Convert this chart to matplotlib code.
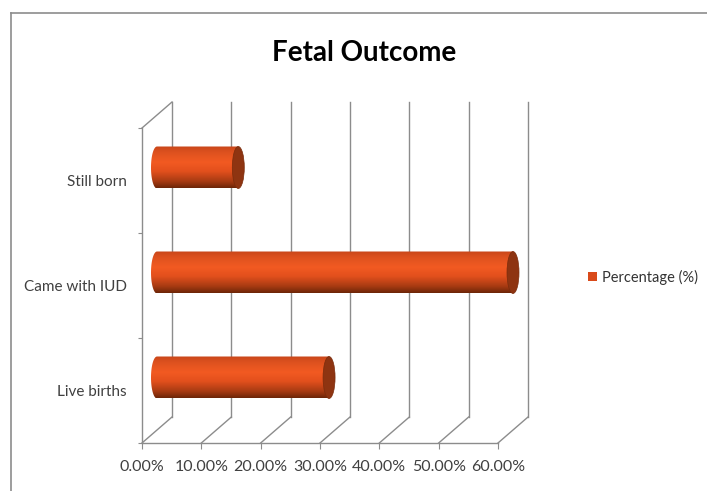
import numpy as np
import matplotlib.pyplot as plt
from matplotlib.patches import Polygon, Ellipse, Patch
from matplotlib.colors import LinearSegmentedColormap
from matplotlib.lines import Line2D

# データ
categories = ["Live births", "Came with IUD", "Still born"]
values = [29.0, 60.0, 13.7]   # Percentage (%)
xticks = [0, 10, 20, 30, 40, 50, 60]

plt.rcParams['font.family'] = ['Lato', 'DejaVu Sans']

W, H = 707, 491
fig = plt.figure(figsize=(W / 100, H / 100), dpi=100)
ax = fig.add_axes([142 / W, 48 / H, 356 / W, 315 / H])
ax.set_xlim(0, 60)
ax.set_ylim(-0.5, 2.5)

grid_c = "#8c8c8c"

# 3D奥行き (データ単位)
dx = 30 * 60 / 356
dy = 26 * 3 / 315

# 奥の壁のグリッド線
for x in xticks:
    ax.plot([x + dx, x + dx], [-0.5 + dy, 2.5 + dy], color=grid_c, lw=1, clip_on=False)
    ax.plot([x, x + dx], [-0.5, -0.5 + dy], color=grid_c, lw=1, clip_on=False)
# 左の壁
ax.plot([0, 0], [-0.5, 2.5], color=grid_c, lw=1, clip_on=False)
ax.plot([0, dx], [2.5, 2.5 + dy], color=grid_c, lw=1, clip_on=False)
ax.plot([0, 60], [-0.5, -0.5], color=grid_c, lw=1, clip_on=False)

# 円柱バー
cmap = LinearSegmentedColormap.from_list("cyl", [
    (0.0, "#c9461a"), (0.15, "#de521f"), (0.38, "#f25a22"),
    (0.6, "#e3501d"), (0.85, "#a63a12"), (1.0, "#6e2608")])
grad = np.linspace(0, 1, 64).reshape(-1, 1)

bh = 0.2          # 半分の高さ
a = 6 * 60 / 356  # 楕円の半幅
for i, v in enumerate(values):
    x0 = dx / 2
    yc = i + dy / 2
    t = np.linspace(np.pi / 2, 3 * np.pi / 2, 40)
    pts = [(x0 + a * np.cos(tt), yc + bh * np.sin(tt)) for tt in t]
    pts += [(x0 + v, yc - bh), (x0 + v, yc + bh)]
    clip = Polygon(pts, closed=True, transform=ax.transData, facecolor="none", edgecolor="none")
    ax.add_patch(clip)
    im = ax.imshow(grad, cmap=cmap, aspect="auto", origin="upper",
                   extent=[x0 - a, x0 + v, yc - bh, yc + bh], zorder=3)
    im.set_clip_box(fig.bbox)
    im.set_clip_path(clip)
    cap = Ellipse((x0 + v, yc), 2 * a, 2 * bh, facecolor="#8e3411",
                  edgecolor="#7a2c0c", lw=0.5, zorder=4, clip_on=False)
    ax.add_patch(cap)

ax.set_xlim(0, 60)
ax.set_ylim(-0.5, 2.5)

for s in ax.spines.values():
    s.set_visible(False)

ax.set_xticks(xticks)
ax.set_xticklabels(["%.2f%%" % x for x in xticks], fontsize=11.5, color="#404040")
ax.tick_params(axis="x", length=4, color=grid_c, pad=8)
ax.set_yticks([-0.5, 0.5, 1.5, 2.5])
ax.set_yticklabels([])
ax.set_yticks([0, 1, 2], minor=True)
ax.set_yticklabels(categories, minor=True, fontsize=11, color="#404040")
ax.tick_params(axis="y", which="major", length=3, color=grid_c)
ax.tick_params(axis="y", which="minor", length=0, pad=11)

fig.text(364 / W, 1 - 53 / H, "Fetal Outcome", ha="center", va="center",
         fontsize=20, fontweight="bold", color="black")

fig.legend(handles=[Patch(facecolor="#d94a1a", edgecolor="none")], labels=["Percentage (%)"],
           loc="center left", bbox_to_anchor=(588 / W, 1 - 277 / H), frameon=False,
           borderpad=0, borderaxespad=0,
           fontsize=10.5, handlelength=0.6, handleheight=0.6, handletextpad=0.35,
           labelcolor="#333333")

# 外枠
fig.add_artist(Line2D([11 / W, 11 / W], [0, 1 - 13 / H], color="#8c8c8c", lw=1.2))
fig.add_artist(Line2D([11 / W, 1], [1 - 13 / H, 1 - 13 / H], color="#8c8c8c", lw=1.2))

fig.savefig("out.png", dpi=100)
